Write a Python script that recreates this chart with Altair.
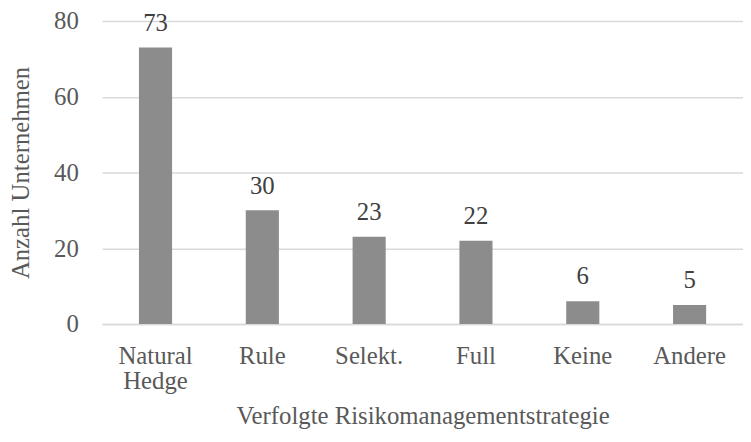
import altair as alt
import pandas as pd

categories = ["Natural Hedge", "Rule", "Selekt.", "Full", "Keine", "Andere"]
values = [73, 30, 23, 22, 6, 5]

df = pd.DataFrame({"cat": categories, "val": values})

FONT = "Liberation Serif"
FS = 25

x = alt.X("cat:N", sort=categories, title="Verfolgte Risikomanagementstrategie",
          scale=alt.Scale(paddingInner=0.69, paddingOuter=0.345),
          axis=alt.Axis(labelAngle=0, labelExpr="split(datum.label, ' ')",
                        labelLineHeight=25, labelPadding=20, ticks=False,
                        domainColor="#d9d9d9", domainWidth=1.5,
                        labelFont=FONT, labelFontSize=FS, labelColor="#595959",
                        titleFont=FONT, titleFontSize=FS, titleColor="#595959",
                        titleFontWeight="normal", titlePadding=10))
y = alt.Y("val:Q", title="Anzahl Unternehmen",
          scale=alt.Scale(domain=[0, 80]),
          axis=alt.Axis(values=[0, 20, 40, 60, 80], domain=False, ticks=False,
                        gridColor="#d9d9d9", gridWidth=1.5, labelPadding=24,
                        labelFont=FONT, labelFontSize=FS, labelColor="#595959",
                        titleFont=FONT, titleFontSize=25, titleColor="#595959",
                        titleFontWeight="normal", titlePadding=20))

base = alt.Chart(df)
bars = base.mark_bar(color="#8c8c8c").encode(x=x, y=y)
labels = base.mark_text(dy=-25, font=FONT, fontSize=FS, color="#404040").encode(
    x=alt.X("cat:N", sort=categories), y="val:Q", text="val:Q")

chart = (bars + labels).properties(
    width=647, height=306,
    autosize=alt.AutoSizeParams(type="none"),
    padding={"left": 95, "top": 11, "right": 0, "bottom": 108},
).configure_view(stroke=None)

chart.save("out.html", embed_options={"renderer": "svg", "actions": False})
